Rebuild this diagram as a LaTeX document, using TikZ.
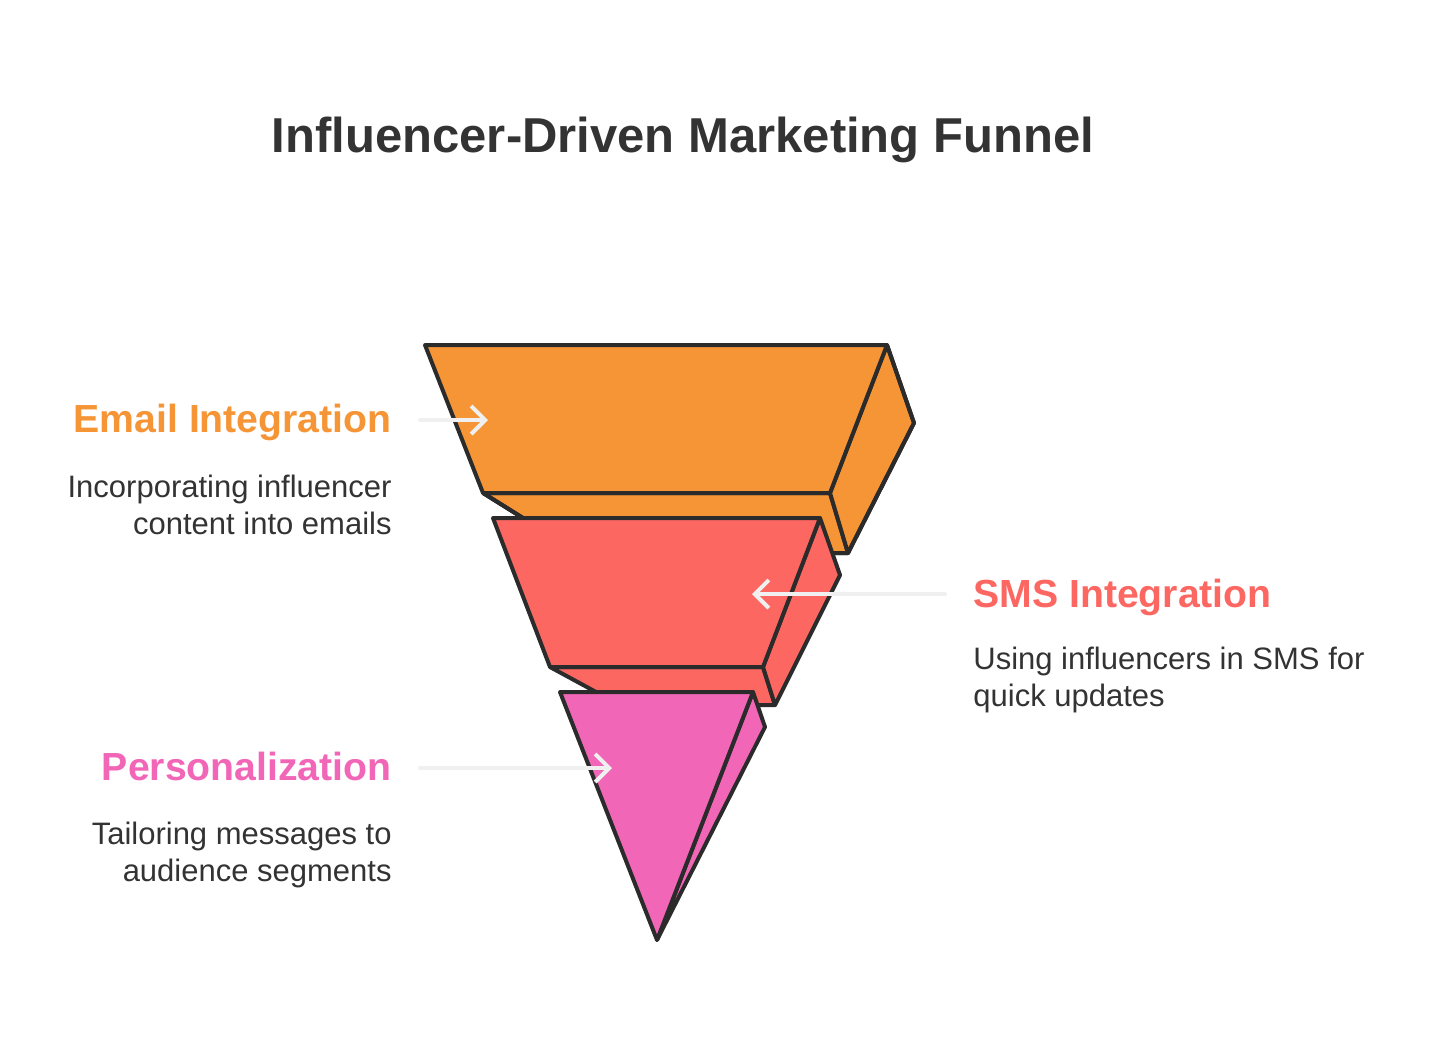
\documentclass[tikz,border=0pt]{standalone}
\usepackage{fontspec}
\setmainfont{Liberation Sans}
\usepackage{tikz}
\usetikzlibrary{arrows.meta,positioning}

\definecolor{ink}{HTML}{333333}
\definecolor{edge}{HTML}{2B2B2B}
\definecolor{emailcol}{HTML}{F59536}
\definecolor{smscol}{HTML}{FC6762}
\definecolor{perscol}{HTML}{F266B8}
\definecolor{pointer}{HTML}{F0F0F0}

\tikzset{
  face/.style={draw=edge, line width=2pt, line join=round},
  pointer/.style={draw=pointer, line width=2pt, line cap=round,
    -{Straight Barb[length=7pt,width=14pt,line width=2pt]}},
  headtext/.style={font=\bfseries\fontsize{19.6}{22}\selectfont, inner sep=0pt},
  bodytext/.style={font=\fontsize{15.5}{18.5}\selectfont, text=ink, inner sep=0pt},
}

\begin{document}
\begin{tikzpicture}[x=0.5pt,y=-0.5pt]
      \useasboundingbox (0,0) rectangle (1440,1040);

      \node(T) [anchor=base, inner sep=0pt, text=ink,
        font=\bfseries\fontsize{24.5}{30}\selectfont] at (683,152)
        {Influencer-Driven Marketing Funnel};

      % orange layer
      \fill[face, fill=emailcol] (483,493) -- (830,493) -- (848,553) -- (579,553) -- cycle;
      \fill[face, fill=emailcol] (887,345) -- (914,423) -- (848,553) -- (830,493) -- cycle;
      \filldraw[face, fill=emailcol] (425,345) -- (887,345) -- (830,493) -- (483,493) -- cycle;
      \draw[face] (483,493) -- (579,553) -- (848,553) -- (914,423) -- (887,345);

      % red layer
      \filldraw[face, fill=smscol] (550,667) -- (763,667) -- (775,705) -- (620,705) -- cycle;
      \filldraw[face, fill=smscol] (820,518) -- (840,575) -- (775,705) -- (763,667) -- cycle;
      \filldraw[face, fill=smscol] (493,518) -- (820,518) -- (763,667) -- (550,667) -- cycle;

      % pink layer
      \filldraw[face, fill=perscol] (753,692) -- (765,727) -- (657,940) -- cycle;
      \filldraw[face, fill=perscol] (560,692) -- (753,692) -- (657,940) -- cycle;

      % pointers
      \coordinate(E0) at (420,420);
      \coordinate(E1) at (488,420);
      \coordinate(S0) at (945,594);
      \coordinate(S1) at (752,594);
      \coordinate(P0) at (420,768);
      \coordinate(P1) at (612,768);
      \draw[pointer] (E0) -- (E1);
      \draw[pointer] (S0) -- (S1);
      \draw[pointer] (P0) -- (P1);

      % labels
      \node(EH) [headtext, text=emailcol, anchor=base east] at (392,432) {Email Integration};
      \node(EB) [bodytext, align=right, anchor=base east] at (392,534)
        {Incorporating influencer\\content into emails};
      \node(SH) [headtext, text=smscol, anchor=base west] at (973,607) {SMS Integration};
      \node(SB) [bodytext, align=left, anchor=base west] at (973,706)
        {Using influencers in SMS for\\quick updates};
      \node(PH) [headtext, text=perscol, anchor=base east] at (392,780) {Personalization};
      \node(PB) [bodytext, align=right, anchor=base east] at (392,881)
        {Tailoring messages to\\audience segments};
    \end{tikzpicture}
\end{document}
